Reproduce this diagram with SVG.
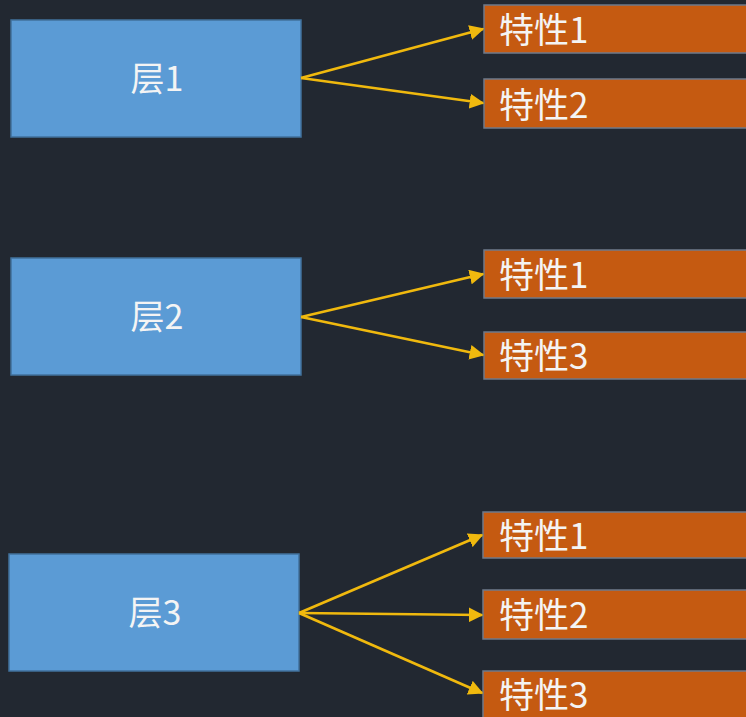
<svg xmlns="http://www.w3.org/2000/svg" width="746" height="717" viewBox="0 0 746 717">
<style>
.bg{fill:#222831}
.layer{fill:#5b9bd5;stroke:#41719c;stroke-width:1.5}
.feat{fill:#c55a11;stroke:#6f7a8a;stroke-width:1.5}
.t{font-family:"Noto Sans CJK SC","Noto Sans",sans-serif;fill:#f4f4f4;font-weight:400}
.lt{font-size:34px;text-anchor:middle}
.ft{font-size:35px}
.conn line{stroke:#f0b90e;stroke-width:2.7;marker-end:url(#ah)}
</style>
<defs>
<marker id="ah" viewBox="0 0 10 10" refX="9" refY="5" markerWidth="5.5" markerHeight="5.5" orient="auto" markerUnits="strokeWidth">
<path d="M0,0 L10,5 L0,10 z" fill="#f0b90e"/>
</marker>
</defs>
<rect class="bg" x="0" y="0" width="746" height="717"/>
<g id="layer1"><rect class="layer" x="11" y="20" width="290" height="117"/><text class="t lt" x="157" y="91">层1</text></g>
<g id="layer2"><rect class="layer" x="11" y="258" width="290" height="117"/><text class="t lt" x="157" y="329">层2</text></g>
<g id="layer3"><rect class="layer" x="9" y="554" width="290" height="117"/><text class="t lt" x="155" y="625">层3</text></g>
<g id="l1f1"><rect class="feat" x="484" y="5" width="270" height="48"/><text class="t ft" x="499" y="43">特性1</text></g>
<g id="l1f2"><rect class="feat" x="484" y="79" width="270" height="49"/><text class="t ft" x="499" y="118">特性2</text></g>
<g id="l2f1"><rect class="feat" x="484" y="250" width="270" height="48"/><text class="t ft" x="499" y="288">特性1</text></g>
<g id="l2f3"><rect class="feat" x="484" y="332" width="270" height="47"/><text class="t ft" x="499" y="369">特性3</text></g>
<g id="l3f1"><rect class="feat" x="483" y="512" width="270" height="46"/><text class="t ft" x="499" y="549">特性1</text></g>
<g id="l3f2"><rect class="feat" x="483" y="590" width="270" height="49"/><text class="t ft" x="499" y="628">特性2</text></g>
<g id="l3f3"><rect class="feat" x="483" y="671" width="270" height="50"/><text class="t ft" x="499" y="708">特性3</text></g>
<g class="conn">
<line x1="301" y1="78" x2="483" y2="29"/>
<line x1="301" y1="78" x2="483" y2="103"/>
<line x1="301" y1="317" x2="483" y2="274"/>
<line x1="301" y1="317" x2="483" y2="355"/>
<line x1="299" y1="613" x2="482" y2="535"/>
<line x1="299" y1="613" x2="482" y2="615"/>
<line x1="299" y1="613" x2="482" y2="693"/>
</g>
</svg>
